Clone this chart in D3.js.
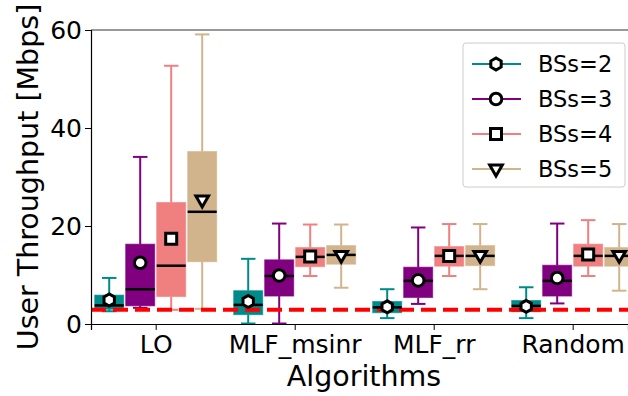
<!DOCTYPE html>
<html>
<head>
<meta charset="utf-8">
<script src="https://cdn.jsdelivr.net/npm/d3@7"></script>
<style>
  body { margin: 0; background: #fff; }
  text { font-family: "DejaVu Sans", sans-serif; }
</style>
</head>
<body>
<div id="chart"></div>
<script>
// categories and series
var algorithms = ["LO", "MLF_msinr", "MLF_rr", "Random"];
var seriesNames = ["BSs=2", "BSs=3", "BSs=4", "BSs=5"];
var seriesColors = ["#008b8b", "#800080", "#f08080", "#d2b48c"];
var seriesMarkers = ["hexagon", "circle", "square", "triangle"];

// per algorithm: [whiskerLow, q1, median, q3, whiskerHigh, mean]
var bss2 = [[2.6, 3.0, 3.8, 5.9, 9.4, 4.9], [0.1, 1.9, 3.9, 6.8, 13.3, 4.6], [1.2, 2.3, 3.4, 4.6, 7.1, 3.5], [1.2, 2.5, 3.7, 4.8, 7.5, 3.6]];
var bss3 = [[3.3, 3.7, 7.1, 16.3, 34.1, 12.5], [0.1, 5.7, 9.8, 13.1, 20.5, 9.9], [4.1, 5.4, 8.8, 11.6, 19.7, 8.9], [4.2, 5.7, 8.8, 12.0, 20.5, 9.4]];
var bss4 = [[2.9, 5.6, 11.9, 24.8, 52.7, 17.4], [9.8, 11.7, 13.7, 15.6, 20.3, 13.8], [9.8, 11.8, 13.9, 15.8, 20.4, 13.9], [9.8, 11.8, 13.9, 16.3, 21.2, 14.2]];
var bss5 = [[3.1, 12.7, 22.9, 35.2, 59.1, 25.3], [7.4, 12.2, 14.1, 16.0, 20.3, 14.0], [7.1, 11.9, 13.9, 16.0, 20.4, 14.0], [6.8, 11.8, 13.9, 15.6, 20.4, 14.0]];
var allSeries = [bss2, bss3, bss4, bss5];

var yTicks = [0, 20, 40, 60];
var thresholdValue = 2.9;

var width = 628, height = 396;
var mLeft = 91, mRight = 628, mTop = 30, mBottom = 324;

var svg = d3.select("#chart").append("svg")
  .attr("width", width)
  .attr("height", height);

var x = d3.scaleLinear().domain([-0.4655, 3.398]).range([mLeft, mRight]);
var y = d3.scaleLinear().domain([0, 60]).range([mBottom, mTop]);

var step = 0.223, boxW = x(0.209) - x(0);

function markerPath(type, s) {
  if (type === "circle") return d3.symbol(d3.symbolCircle, Math.PI * s * s)();
  if (type === "square") return "M" + (-s) + "," + (-s) + "h" + 2 * s + "v" + 2 * s + "h" + (-2 * s) + "Z";
  if (type === "triangle") {
    return "M" + (-s) + "," + (-s * 0.62) + "L" + s + "," + (-s * 0.62) + "L0," + (s * 1.1) + "Z";
  }
  // hexagon with a vertex at the top
  var pts = d3.range(6).map(function(k) {
    var a = Math.PI / 2 + k * Math.PI / 3;
    return [s * Math.cos(a), -s * Math.sin(a)];
  });
  return "M" + pts.join("L") + "Z";
}
var markerSize = {hexagon: 6, circle: 5.8, square: 5.5, triangle: 6.3};

/* boxes */
allSeries.forEach(function(series, j) {
  var g = svg.append("g").attr("class", "series");
  var color = seriesColors[j];
  series.forEach(function(d, i) {
    var cx = x(i + (j - 1.5) * step);
    var bx = g.append("g");
    // whiskers
    bx.append("line").attr("x1", cx).attr("x2", cx).attr("y1", y(d[4])).attr("y2", y(d[3]))
      .attr("stroke", color).attr("stroke-width", 2);
    bx.append("line").attr("x1", cx).attr("x2", cx).attr("y1", y(d[1])).attr("y2", y(d[0]))
      .attr("stroke", color).attr("stroke-width", 2);
    // caps
    [d[0], d[4]].forEach(function(v) {
      bx.append("line").attr("x1", cx - boxW / 4).attr("x2", cx + boxW / 4)
        .attr("y1", y(v)).attr("y2", y(v))
        .attr("stroke", color).attr("stroke-width", 2);
    });
    // box
    bx.append("rect").attr("x", cx - boxW / 2).attr("width", boxW)
      .attr("y", y(d[3])).attr("height", y(d[1]) - y(d[3]))
      .attr("fill", color).attr("stroke", color).attr("stroke-opacity", 0.6).attr("stroke-width", 1);
  });
});

/* red threshold */
svg.append("line")
  .attr("x1", mLeft).attr("x2", mRight)
  .attr("y1", y(thresholdValue)).attr("y2", y(thresholdValue))
  .attr("stroke", "#ff0000").attr("stroke-width", 4)
  .attr("stroke-dasharray", "15,7");

/* medians and means */
allSeries.forEach(function(series, j) {
  series.forEach(function(d, i) {
    var cx = x(i + (j - 1.5) * step);
    svg.append("line").attr("x1", cx - boxW / 2).attr("x2", cx + boxW / 2)
      .attr("y1", y(d[2])).attr("y2", y(d[2]))
      .attr("stroke", "#000").attr("stroke-width", 2.5);
    svg.append("path")
      .attr("d", markerPath(seriesMarkers[j], markerSize[seriesMarkers[j]]))
      .attr("transform", "translate(" + cx + "," + y(d[5]) + ")")
      .attr("fill", "#fff").attr("stroke", "#000").attr("stroke-width", 3);
  });
});

/* axes */
svg.append("line").attr("x1", mLeft).attr("x2", mRight).attr("y1", mTop).attr("y2", mTop)
  .attr("stroke", "#777").attr("stroke-width", 1.5);

var yAxis = svg.append("g")
  .attr("transform", "translate(" + mLeft + ",0)")
  .call(d3.axisLeft(y).tickValues(yTicks).tickSize(6).tickPadding(3));
var xAxis = svg.append("g")
  .attr("transform", "translate(0," + mBottom + ")")
  .call(d3.axisBottom(x).tickValues(d3.range(algorithms.length)).tickFormat(function(i) { return algorithms[i]; })
    .tickSize(6).tickPadding(5));
[yAxis, xAxis].forEach(function(a) {
  a.select(".domain").attr("stroke", "#000").attr("stroke-width", 1.2);
  a.selectAll(".tick line").attr("stroke", "#000").attr("stroke-width", 1);
  a.selectAll("text").attr("fill", "#000").style("font-size", "25px").style("font-family", "DejaVu Sans");
});

svg.append("text")
  .attr("x", 364).attr("y", 385.5)
  .attr("text-anchor", "middle")
  .style("font-size", "28.5px")
  .text("Algorithms");

svg.append("text")
  .attr("transform", "translate(38," + ((mTop + mBottom) / 2) + ") rotate(-90)")
  .attr("text-anchor", "middle")
  .style("font-size", "28.5px")
  .text("User Throughput [Mbps]");

/* legend */
var legend = svg.append("g").attr("transform", "translate(463,43)");
legend.append("rect")
  .attr("width", 162).attr("height", 144).attr("rx", 3)
  .attr("fill", "#fff").attr("fill-opacity", 0.8)
  .attr("stroke", "#ccc").attr("stroke-width", 1);
seriesNames.forEach(function(name, j) {
  var ly = 21 + j * 35;
  legend.append("line").attr("x1", 9).attr("x2", 58).attr("y1", ly).attr("y2", ly)
    .attr("stroke", seriesColors[j]).attr("stroke-width", 2);
  legend.append("path")
    .attr("d", markerPath(seriesMarkers[j], markerSize[seriesMarkers[j]]))
    .attr("transform", "translate(33," + ly + ")")
    .attr("fill", "#fff").attr("stroke", "#000").attr("stroke-width", 3);
  legend.append("text").attr("x", 75).attr("y", ly + 8)
    .style("font-size", "22.5px")
    .text(name);
});
</script>
</body>
</html>
